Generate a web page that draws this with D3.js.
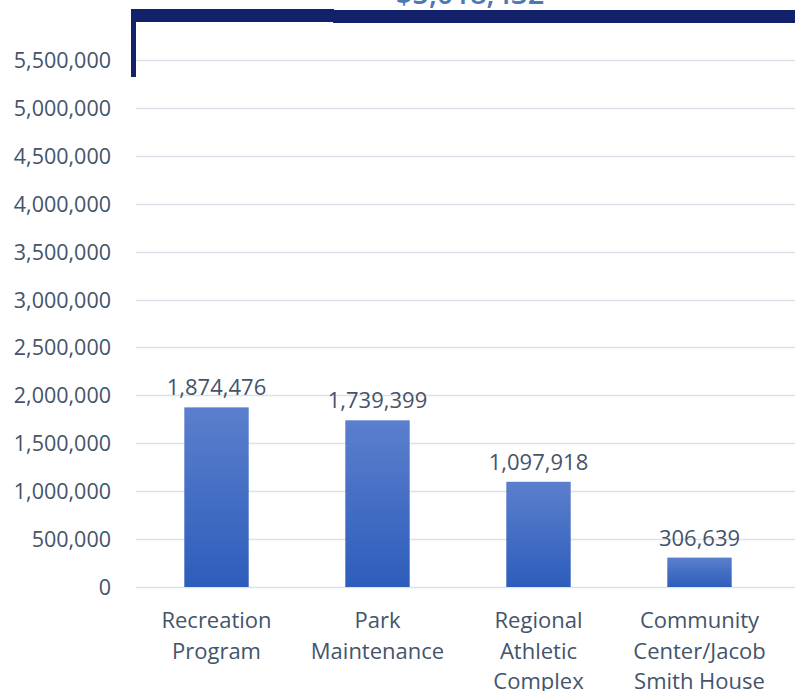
<!DOCTYPE html>
<html><head><meta charset="utf-8">
<script src="https://cdn.jsdelivr.net/npm/d3@7"></script>
<style>body{margin:0;background:#fff;}svg{display:block;}</style>
</head><body>
<script>
const categories = [["Recreation","Program"],["Park","Maintenance"],["Regional","Athletic","Complex"],["Community","Center/Jacob","Smith House"]];
const values = [1874476, 1739399, 1097918, 306639];
const yTicks = [0,500000,1000000,1500000,2000000,2500000,3000000,3500000,4000000,4500000,5000000,5500000];
const totalLabel = "$5,018,432";

const W = 795, H = 691;
const svg = d3.select("body").append("svg").attr("width", W).attr("height", H);
const font = "'Open Sans', sans-serif";
const textColor = "#44546a";

const x = d3.scaleBand().domain(d3.range(categories.length)).range([136, 780]).paddingInner(0.6).paddingOuter(0.3);
const y = d3.scaleLinear().domain([0, 6000000]).range([587, 12]);

const defs = svg.append("defs");
const grad = defs.append("linearGradient").attr("id","bg").attr("x1",0).attr("y1",0).attr("x2",0).attr("y2",1);
grad.append("stop").attr("offset","0%").attr("stop-color","#5b7fcd");
grad.append("stop").attr("offset","100%").attr("stop-color","#2d5dbb");

// gridlines
svg.append("g").selectAll("line").data(yTicks).join("line")
  .attr("x1", 136).attr("x2", W)
  .attr("y1", d => Math.round(y(d)) + 0.5).attr("y2", d => Math.round(y(d)) + 0.5)
  .attr("stroke", "#dde1ea").attr("stroke-width", 1.5);

// y axis labels
const yAxis = d3.axisLeft(y).tickValues(yTicks).tickFormat(d3.format(",")).tickSize(0).tickPadding(0);
const ya = svg.append("g").attr("transform", "translate(111,0)").call(yAxis);
ya.select(".domain").remove();
ya.selectAll("text").attr("font-family", font).attr("font-size", 21.5)
  .attr("fill", textColor).attr("dy","0.35em");

// bars
svg.append("g").selectAll("rect").data(values).join("rect")
  .attr("x", (d,i) => x(i)).attr("width", x.bandwidth())
  .attr("y", d => y(d)).attr("height", d => y(0) - y(d))
  .attr("fill", "url(#bg)");

// data labels
svg.append("g").selectAll("text").data(values).join("text")
  .attr("x", (d,i) => x(i) + x.bandwidth()/2).attr("y", d => y(d) - 12)
  .attr("text-anchor","middle").attr("font-family", font).attr("font-size", 22)
  .attr("fill", textColor)
  .text(d => d3.format(",")(d));

// category labels
const cg = svg.append("g");
categories.forEach((lines, i) => {
  const t = cg.append("text").attr("x", x(i) + x.bandwidth()/2).attr("y", 628)
    .attr("text-anchor","middle").attr("font-family", font).attr("font-size", 22).attr("fill", textColor);
  lines.forEach((l, j) => t.append("tspan").attr("x", x(i) + x.bandwidth()/2).attr("y", 628 + j*30.5).text(l));
});

// bracket
svg.append("rect").attr("x",131).attr("y",9).attr("width",203).attr("height",13).attr("fill","#13216a");
svg.append("rect").attr("x",333).attr("y",10).attr("width",W-333).attr("height",13).attr("fill","#13216a");
svg.append("rect").attr("x",131).attr("y",9).attr("width",5).attr("height",68).attr("fill","#13216a");

// total label (cut off at top)
svg.append("text").attr("x", 470).attr("y", 4).attr("text-anchor","middle")
  .attr("font-family", font).attr("font-size", 29).attr("font-weight", 600).attr("fill","#4a7ab5").text(totalLabel);
</script>
</body></html>
